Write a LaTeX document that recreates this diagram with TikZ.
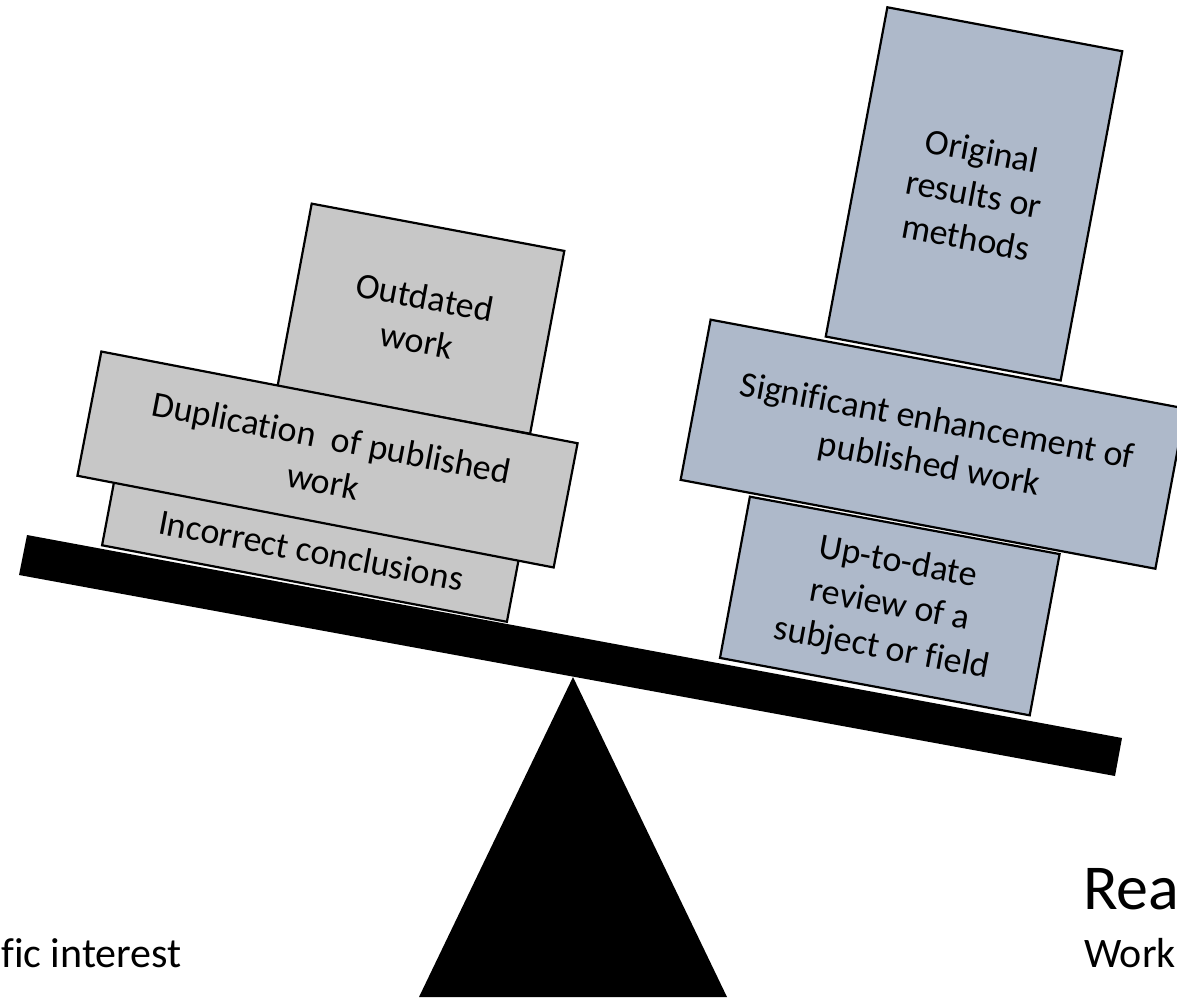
\documentclass[tikz,border=0pt]{standalone}
\usepackage{fontspec}
\setmainfont{Carlito}[Ligatures=NoCommon]
\definecolor{grayfill}{HTML}{C7C7C7}
\definecolor{bluefill}{HTML}{AEB9CA}
\begin{document}
\begin{tikzpicture}[x=1pt,y=-1pt,
  box/.style={draw=black, line width=2.2pt, inner sep=0pt, align=center,
    font=\fontsize{36}{44}\selectfont},
  lbox/.style={box, fill=grayfill},
  rbox/.style={box, fill=bluefill},
  boxtext/.style={inner sep=0pt, font=\fontsize{36}{44}\selectfont},
  captext/.style={anchor=base west, inner sep=0pt, font=\fontsize{42}{50}\selectfont}]
\useasboundingbox (0,0) rectangle (1177,1000);
% fulcrum
\fill[black] (573,677) -- (727,997) -- (419,997) -- cycle;
% beam
\fill[black] (27,535) -- (1122,738) -- (1115,776) -- (19,575) -- cycle;
% left stack
\node[lbox, rotate=-10.7, minimum width=412pt, minimum height=110pt] (incorrect) at (314.7,529.5) {};
\node[boxtext, rotate=-10.7, anchor=base] (incorrecttext) at (309,562.5) {Incorrect conclusions};
\node[lbox, rotate=-10.6, minimum width=257pt, minimum height=186pt] (outdated) at (420.9,318.7) {Outdated\\work};
\node[lbox, rotate=-10.9, minimum width=485pt, minimum height=126.5pt] (dup) at (327.5,459.5) {Duplication\ \ of published\\work};
% right stack
\node[rbox, rotate=-10.5, minimum width=315pt, minimum height=164pt] (uptodate) at (889.8,606) {Up-to-date\\review of a\\subject or field};
\node[rbox, rotate=-10.6, minimum width=239pt, minimum height=335pt] (original) at (974,193.9) {Original\\results or\\methods};
\node[rbox, rotate=-10.6, minimum width=483pt, minimum height=163pt] (significant) at (933,444.2) {Significant enhancement of\\published work};
% cut-off captions
\node[captext] (leftcap) at (1,967) {fic interest};
\node[captext, font=\fontsize{64}{76}\selectfont] (rea) at (1083,909) {Rea};
\node[captext] (work) at (1084,967) {Work};
\end{tikzpicture}
\end{document}
